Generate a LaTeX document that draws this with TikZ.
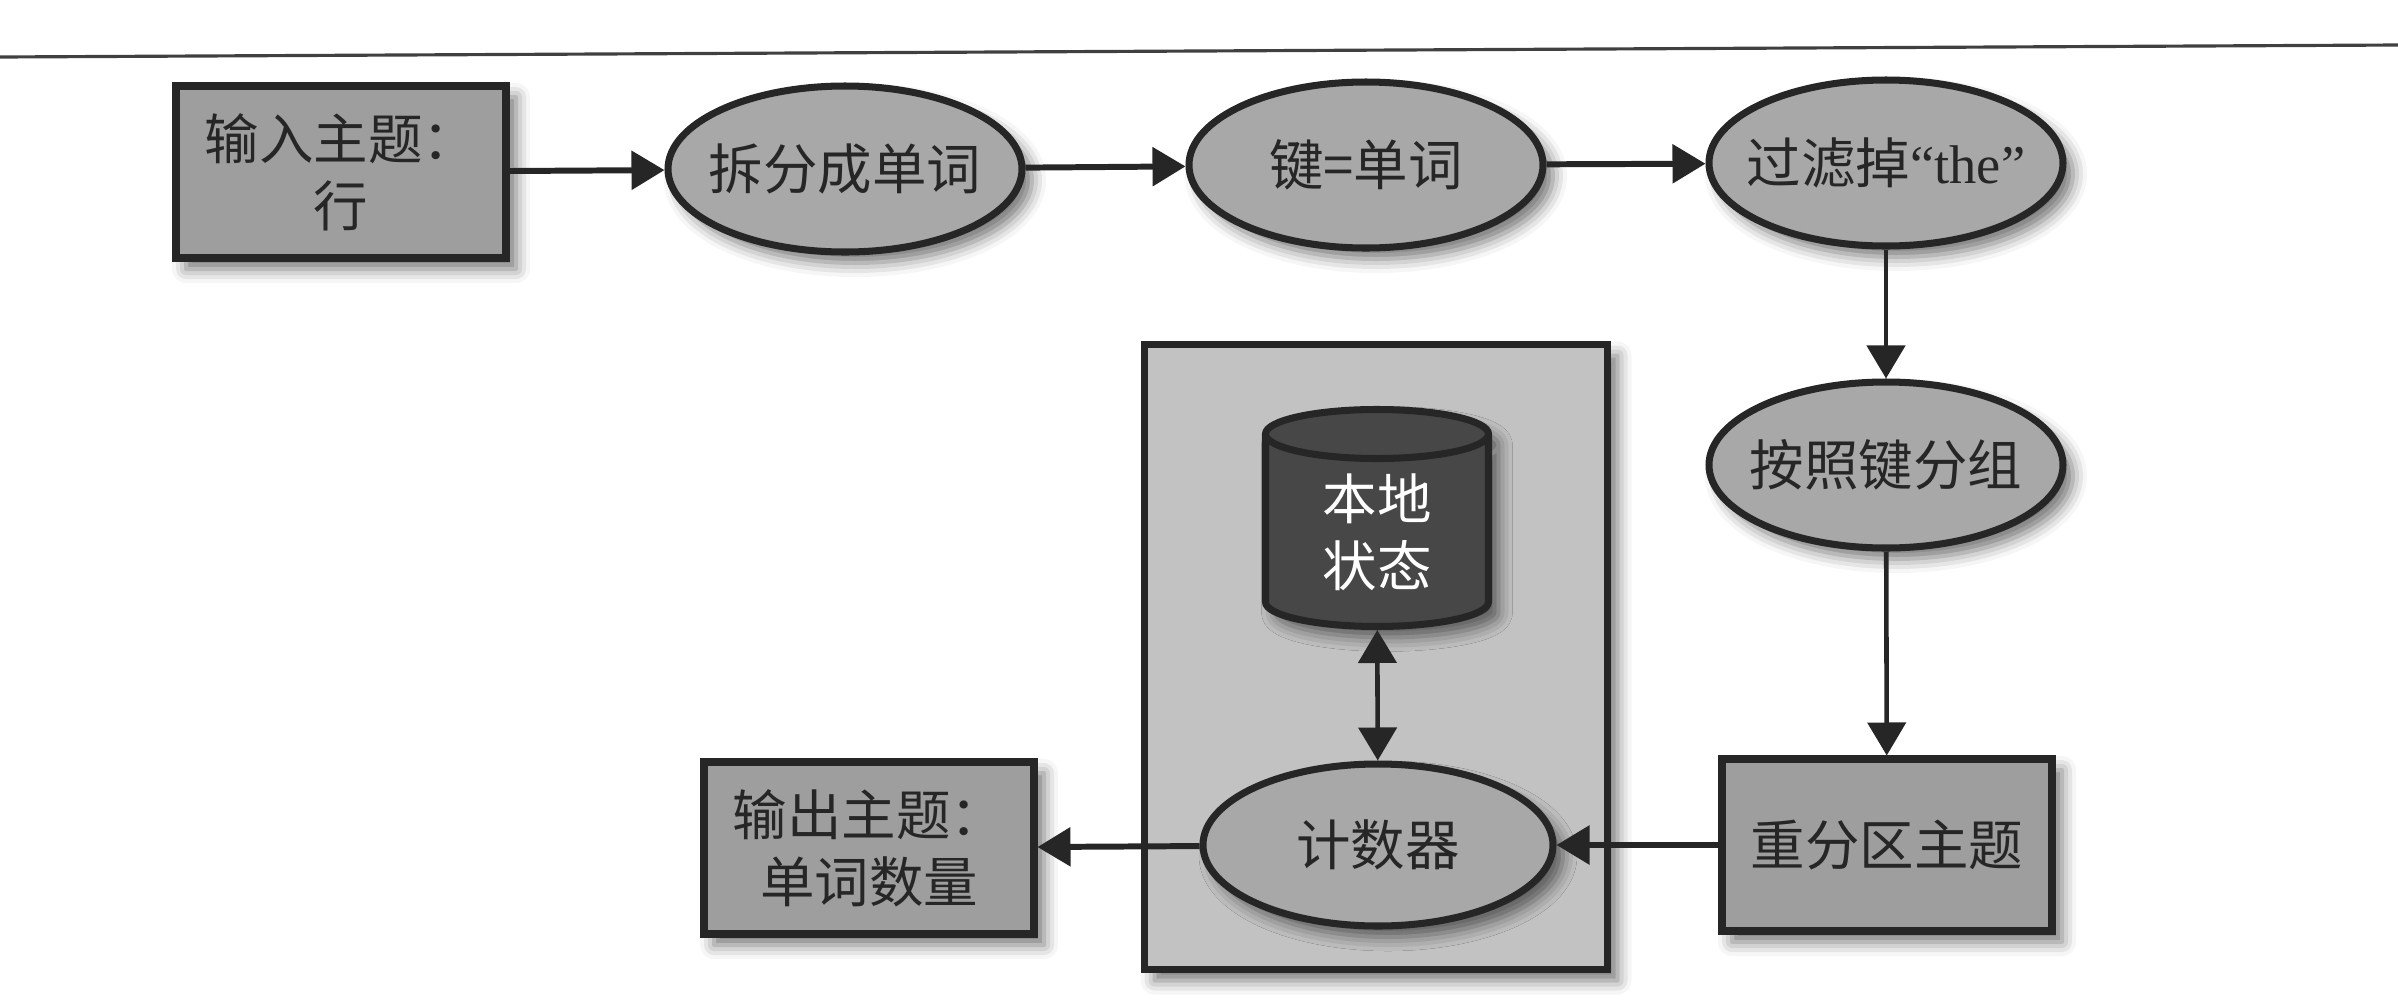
\documentclass[tikz,border=0pt]{standalone}
\usepackage{fontspec}
\setmainfont{Liberation Serif}
\newfontfamily\cjk{Noto Sans CJK SC}
\usetikzlibrary{arrows.meta,shapes.geometric,shadows.blur}

\begin{document}
\begin{tikzpicture}[x=0.1mm,y=-0.1mm,
  shade/.style={blur shadow={shadow xshift=1mm,shadow yshift=-1.1mm,shadow blur radius=1.4mm,shadow opacity=55}},
  topic/.style={shade,draw=black!85,line width=2pt,fill=black!38,text=black!85,
    minimum width=3.3cm,minimum height=1.72cm,inner sep=0pt,align=center,
    font=\cjk\fontsize{15.5pt}{19pt}\selectfont},
  proc/.style={shade,ellipse,draw=black!85,line width=2pt,fill=black!34,text=black!85,
    minimum width=3.54cm,minimum height=1.66cm,inner xsep=-4mm,inner ysep=0pt,
    font=\cjk\fontsize{15.5pt}{19pt}\selectfont},
  frame/.style={shade,draw=black!85,line width=2pt,fill=black!24,minimum width=4.63cm,minimum height=6.25cm},
  store/.style={shade,cylinder,shape border rotate=90,aspect=0.45,draw=black!85,line width=2pt,
    fill=black!72,text=white,align=center,minimum width=2.23cm,minimum height=2.17cm,inner sep=0pt,
    font=\cjk\fontsize{15.5pt}{19pt}\selectfont},
  flow/.style={draw=black!85,line width=1.7pt,-{Triangle[length=3.3mm,width=3.8mm]}}]
  \useasboundingbox (0,0) rectangle (2398,1000);
  \draw[black!75,line width=0.9pt] (0,57) -- (2398,45);

  \node[frame] (task) at (1376,657) {};
  \node[topic] (in) at (341,172) {输入主题：\\行};
  \node[proc] (split) at (845,169) {拆分成单词};
  \node[proc] (key) at (1366,165) {键=单词};
  \node[proc] (filter) at (1886,163) {过滤掉{\rmfamily “the”}};
  \node[proc] (group) at (1886,465) {按照键分组};
  \node[topic] (repart) at (1887,845) {重分区主题};
  \node[proc,minimum width=3.5cm,minimum height=1.62cm] (count) at (1378,845) {计数器};
  \node[store] (state) at (1377,532) {本地\\状态};
  \node[topic] (out) at (869,848) {输出主题：\\单词数量};

  \draw[flow] (in) -- (split);
  \draw[flow] (split) -- (key);
  \draw[flow] (key) -- (filter);
  \draw[flow,line width=1.3pt] (filter) -- (group);
  \draw[flow,line width=1.3pt] (group) -- (repart);
  \draw[flow] (repart) -- (count);
  \draw[flow] (count) -- (out);
  \draw[flow,line width=1.3pt,{Triangle[length=3.3mm,width=3.8mm]}-{Triangle[length=3.3mm,width=3.8mm]}] (count) -- (state);
\end{tikzpicture}
\end{document}
